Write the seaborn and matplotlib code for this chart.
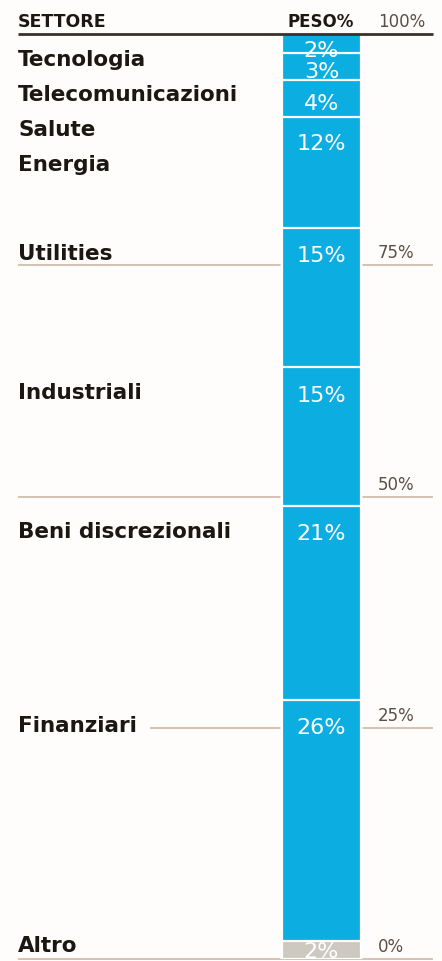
import numpy as np
import pandas as pd
import matplotlib
matplotlib.use("Agg")
import matplotlib.pyplot as plt
import seaborn as sns
from matplotlib import transforms

# ---------------- data ----------------
sectors = ["Tecnologia", "Telecomunicazioni", "Salute", "Energia", "Utilities",
           "Industriali", "Beni discrezionali", "Finanziari", "Altro"]
weights = [2, 3, 4, 12, 15, 15, 21, 26, 2]
value_labels = ["2%", "3%", "4%", "12%", "15%", "15%", "21%", "26%", "2%"]
tick_values = [0, 25, 50, 75, 100]
tick_labels = ["0%", "25%", "50%", "75%", "100%"]
header_left = "SETTORE"
header_mid = "PESO%"

# ---------------- style ----------------
W, H = 442, 961
BG = "#FEFDFB"
BLUE = "#0CAEE2"
GREY = "#CDC8C0"
LINE = "#CDB9A6"
DARK = "#3A3029"
TXT = "#1B1712"
TICKC = "#5A4E45"
VALUE_DY = [23, 26, 30, 33, 34, 35, 34, 34, 17]  # px from segment top to label baseline

sns.set_theme(style="white")
plt.rcParams['font.family'] = ['DejaVu Sans']

df = pd.DataFrame({"settore": sectors, "peso": weights, "label": value_labels})
df["top"] = df["peso"][::-1].cumsum()[::-1]

fig = plt.figure(figsize=(W / 100, H / 100), dpi=100, facecolor=BG)
ax = fig.add_axes([0, 2 / H, 1, 925 / H])
ax.set_facecolor(BG)

for _, r in df.sort_values("top", ascending=False).iterrows():
    color = GREY if r["settore"] == "Altro" else BLUE
    sns.barplot(x=["PESO"], y=[r["top"]], color=color, width=1, saturation=1,
                edgecolor="white", linewidth=1.6, ax=ax, zorder=2)

bar_px = 79.0
center_px = 321.5
ax.set_xlim(-center_px / bar_px, (W - center_px) / bar_px)
ax.set_ylim(0, 100)
ax.set_xticks([])
ax.set_yticks([])
ax.set_xlabel("")
ax.set_ylabel("")
for s in ax.spines.values():
    s.set_visible(False)

blended = transforms.blended_transform_factory(ax.transAxes, ax.transData)

# grid lines
for t in tick_values:
    if t == 100:
        ax.plot([18 / W, 433 / W], [t, t], transform=blended, color=DARK, lw=2.0,
                zorder=3, clip_on=False, solid_capstyle="butt")
    else:
        x0 = 150 / W if t == 25 else 18 / W
        ax.plot([x0, 433 / W], [t, t], transform=blended, color=LINE, lw=1.2,
                zorder=1, clip_on=False, solid_capstyle="butt")

# tick labels
tick_tr = transforms.offset_copy(blended, fig=fig, y=7, units='dots')
for t, lab in zip(tick_values, tick_labels):
    ax.text(378 / W, t, lab, transform=tick_tr, ha="left", va="baseline",
            fontsize=12, color=TICKC)

# headers
fig.text(18 / W, 1 - 27 / H, header_left, ha="left", va="baseline",
         fontsize=12.5, fontweight="bold", color=TXT)
fig.text(354 / W, 1 - 27 / H, header_mid, ha="right", va="baseline",
         fontsize=12, fontweight="bold", color=TXT)

# labels
fig.canvas.draw()
prev = -1e9
for i, r in df.iterrows():
    seg_top_px = H - ax.transData.transform((0, r["top"]))[1]
    # value label in bar
    vtr = transforms.offset_copy(ax.transData, fig=fig, y=-VALUE_DY[i], units='dots')
    ax.text(0, r["top"], r["label"], transform=vtr, ha="center", va="baseline",
            fontsize=16, color="white", zorder=4)
    # sector label
    base = max(seg_top_px + 32, prev + 35)
    base = min(base, H - 9)
    prev = base
    fig.text(18 / W, 1 - base / H, r["settore"], ha="left", va="baseline",
             fontsize=15.5, fontweight="bold", color=TXT)

fig.savefig("out.png", dpi=100, facecolor=BG)
